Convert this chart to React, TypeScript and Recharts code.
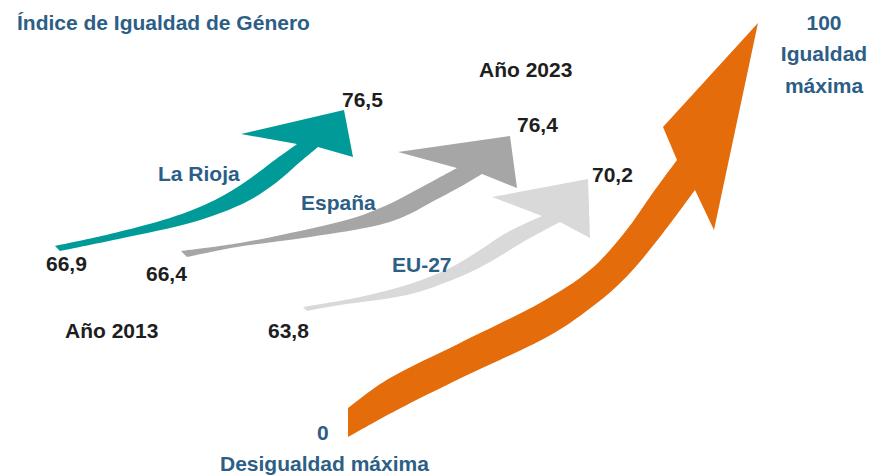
import { ComposedChart, Scatter, XAxis, YAxis } from 'recharts';

const title = 'Índice de Igualdad de Género';
const categories = ['La Rioja', 'España', 'EU-27'];
const values2013 = [66.9, 66.4, 63.8];
const values2023 = [76.5, 76.4, 70.2];
const yearLabels = ['Año 2013', 'Año 2023'];
const scaleEnds = [0, 100];
const scaleNames = ['Desigualdad máxima', 'Igualdad máxima'];

const arrowColors = ['#009B98', '#A6A6A6', '#D9D9D9', '#E46C0A'];
const BLUE = '#2C5E86';
const DARK = '#1E1E1E';
const W = 870;
const H = 476;

type P = [number, number];
interface ArrowShape {
    upper: P[];
    head: P[];
    lower: P[];
}

// outline of each arrow in page units: tail -> upper notch, head, lower notch -> tail
const arrowShapes: ArrowShape[] = [
    {
        upper: [[55, 246], [110, 234], [170, 218], [215, 200], [248, 180], [272, 162], [297, 144]],
        head: [[241, 134], [344, 110], [353, 157]],
        lower: [[318, 147], [300, 162], [273, 185], [240, 205], [190, 223], [123, 238], [60, 251]],
    },
    {
        upper: [[181, 251], [240, 243], [300, 231], [350, 219], [385, 206], [420, 188], [457, 168]],
        head: [[398, 152], [510, 136], [517, 188]],
        lower: [[482, 174], [460, 187], [430, 203], [403, 217], [370, 227], [303, 238], [237, 247], [187, 257]],
    },
    {
        upper: [[303, 307], [360, 297], [410, 284], [450, 268], [480, 250], [508, 232], [542, 216]],
        head: [[492, 197], [588, 179], [590, 238]],
        lower: [[560, 222], [523, 242], [490, 262], [457, 278], [407, 295], [340, 305], [307, 311]],
    },
    {
        upper: [[348, 408], [390, 378], [460, 343], [540, 303], [590, 270], [625, 232], [652, 194], [677, 160]],
        head: [[663, 127], [758, 23], [714, 230]],
        lower: [[695, 190], [663, 233], [630, 273], [597, 303], [547, 337], [463, 377], [397, 410], [348, 437]],
    },
];

const fmt = (v: number) => v.toFixed(1).replace('.', ',');

// where each text sits (left x / baseline y unless anchor says otherwise)
const labels = [
    { x: 17, y: 30, text: title, color: BLUE, anchor: 'start' },
    { x: 158, y: 181, text: categories[0], color: BLUE, anchor: 'start' },
    { x: 301, y: 210, text: categories[1], color: BLUE, anchor: 'start' },
    { x: 392, y: 272, text: categories[2], color: BLUE, anchor: 'start' },
    { x: 46, y: 271, text: fmt(values2013[0]), color: DARK, anchor: 'start' },
    { x: 146, y: 281, text: fmt(values2013[1]), color: DARK, anchor: 'start' },
    { x: 268, y: 338, text: fmt(values2013[2]), color: DARK, anchor: 'start' },
    { x: 342, y: 107, text: fmt(values2023[0]), color: DARK, anchor: 'start' },
    { x: 517, y: 132, text: fmt(values2023[1]), color: DARK, anchor: 'start' },
    { x: 592, y: 182, text: fmt(values2023[2]), color: DARK, anchor: 'start' },
    { x: 65, y: 338, text: yearLabels[0], color: DARK, anchor: 'start' },
    { x: 479, y: 77, text: yearLabels[1], color: DARK, anchor: 'start' },
    { x: 317, y: 440, text: String(scaleEnds[0]), color: BLUE, anchor: 'start' },
    { x: 220, y: 471, text: scaleNames[0], color: BLUE, anchor: 'start' },
    { x: 824, y: 30, text: String(scaleEnds[1]), color: BLUE, anchor: 'middle' },
    { x: 824, y: 61, text: scaleNames[1].split(' ')[0], color: BLUE, anchor: 'middle' },
    { x: 824, y: 93, text: scaleNames[1].split(' ')[1], color: BLUE, anchor: 'middle' },
];

type XY = { x: number; y: number };

function smooth(pts: XY[]) {
    let d = '';
    for (let i = 0; i < pts.length - 1; i++) {
        const p0 = pts[i - 1] || pts[i];
        const p1 = pts[i];
        const p2 = pts[i + 1];
        const p3 = pts[i + 2] || p2;
        const c1x = p1.x + (p2.x - p0.x) / 6;
        const c1y = p1.y + (p2.y - p0.y) / 6;
        const c2x = p2.x - (p3.x - p1.x) / 6;
        const c2y = p2.y - (p3.y - p1.y) / 6;
        d += ` C${c1x},${c1y} ${c2x},${c2y} ${p2.x},${p2.y}`;
    }
    return d;
}

function arrowOutline(shape: ArrowShape, color: string) {
    return (props: any) => {
        const pts: XY[] = props.points || [];
        if (pts.length === 0) return <g />;
        const nu = shape.upper.length;
        const nh = shape.head.length;
        const up = pts.slice(0, nu);
        const head = pts.slice(nu, nu + nh);
        const low = pts.slice(nu + nh);
        let d = `M${up[0].x},${up[0].y}` + smooth(up);
        head.forEach((p) => {
            d += ` L${p.x},${p.y}`;
        });
        d += ` L${low[0].x},${low[0].y}` + smooth(low) + ' Z';
        return <path d={d} fill={color} stroke="none" />;
    };
}

const renderText = (p: any) => (
    <text
        x={p.cx}
        y={p.cy}
        textAnchor={p.payload.anchor}
        fill={p.payload.color}
        fontSize={21}
        fontWeight="bold"
        fontFamily="'Liberation Sans', Arial, sans-serif"
    >
        {p.payload.text}
    </text>
);

export default function App() {
    return (
        <div style={{ position: 'absolute', left: 0, top: 0, width: W, height: H, background: '#fff' }}>
            <ComposedChart width={W} height={H} margin={{ top: 0, right: 0, bottom: 0, left: 0 }}>
                <XAxis type="number" dataKey="x" domain={[0, W]} hide />
                <YAxis type="number" dataKey="y" domain={[0, H]} reversed hide />
                {arrowShapes.map((shape, i) => (
                    <Scatter
                        key={i}
                        data={[...shape.upper, ...shape.head, ...shape.lower].map(([x, y]) => ({ x, y }))}
                        shape={() => <g />}
                        line={arrowOutline(shape, arrowColors[i])}
                        fill={arrowColors[i]}
                        isAnimationActive={false}
                    />
                ))}
                <Scatter data={labels} shape={renderText} isAnimationActive={false} />
            </ComposedChart>
        </div>
    );
}
